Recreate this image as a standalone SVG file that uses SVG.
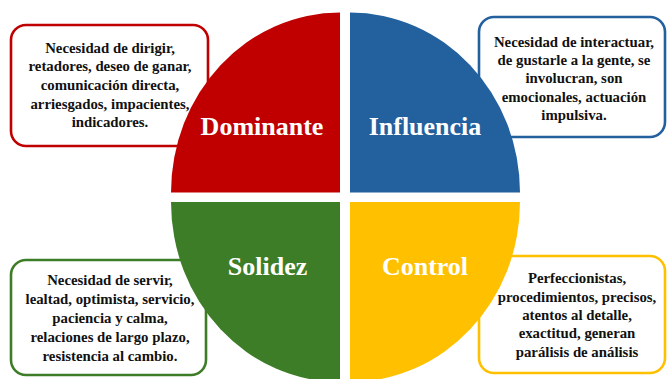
<svg xmlns="http://www.w3.org/2000/svg" width="667" height="379" viewBox="0 0 667 379">
<style>
.box{fill:#ffffff;stroke-width:2.6}
.t{font-family:"Liberation Serif","Times New Roman",serif;font-weight:bold;font-size:14.8px;fill:#111111;text-anchor:middle}
.q{font-family:"Liberation Serif","Times New Roman",serif;font-weight:bold;font-size:26px;fill:#ffffff;text-anchor:middle}
</style>
<rect width="667" height="379" fill="#ffffff"/>
<g id="box-dominante">
<rect class="box" x="11" y="25" width="197" height="121" rx="15" stroke="#C00000"/>
<text class="t" x="110" y="52.5">Necesidad de dirigir,</text>
<text class="t" x="110" y="71.2">retadores, deseo de ganar,</text>
<text class="t" x="110" y="90">comunicación directa,</text>
<text class="t" x="110" y="108.7">arriesgados, impacientes,</text>
<text class="t" x="110" y="127.4">indicadores.</text>
</g>
<g id="box-influencia">
<rect class="box" x="479" y="17" width="186" height="120" rx="15" stroke="#22609E"/>
<text class="t" x="574" y="46.7">Necesidad de interactuar,</text>
<text class="t" x="574" y="65">de gustarle a la gente, se</text>
<text class="t" x="574" y="83.3">involucran, son</text>
<text class="t" x="574" y="101.7">emocionales, actuación</text>
<text class="t" x="574" y="120">impulsiva.</text>
</g>
<g id="box-solidez">
<rect class="box" x="11" y="260" width="195" height="115" rx="15" stroke="#3E7D27"/>
<text class="t" x="110" y="285">Necesidad de servir,</text>
<text class="t" x="110" y="304">lealtad, optimista, servicio,</text>
<text class="t" x="110" y="322.8">paciencia y calma,</text>
<text class="t" x="110" y="341.7">relaciones de largo plazo,</text>
<text class="t" x="110" y="360.6">resistencia al cambio.</text>
</g>
<g id="box-control">
<rect class="box" x="479" y="256" width="186" height="117" rx="15" stroke="#FFC000"/>
<text class="t" x="577" y="283.3">Perfeccionistas,</text>
<text class="t" x="577" y="301.7">procedimientos, precisos,</text>
<text class="t" x="577" y="320">atentos al detalle,</text>
<text class="t" x="577" y="338.4">exactitud, generan</text>
<text class="t" x="577" y="356.7">parálisis de análisis</text>
</g>
<g id="connectors"></g>
<g id="dominante">
<path d="M340,192.5 L171,192.5 A169,180 0 0 1 340,12.5 Z" fill="#C00000"/>
<text class="q" x="262" y="135">Dominante</text>
</g>
<g id="influencia">
<path d="M350,192.5 L350,12.5 A170,180 0 0 1 520,192.5 Z" fill="#22609E"/>
<text class="q" x="425" y="135">Influencia</text>
</g>
<g id="solidez">
<path d="M340,202 L171,202 A169,180 0 0 0 340,382 Z" fill="#3E7D27"/>
<text class="q" x="267.5" y="275">Solidez</text>
</g>
<g id="control">
<path d="M350,202 L520,202 A170,180 0 0 1 350,382 Z" fill="#FFC000"/>
<text class="q" x="425" y="275">Control</text>
</g>
</svg>
